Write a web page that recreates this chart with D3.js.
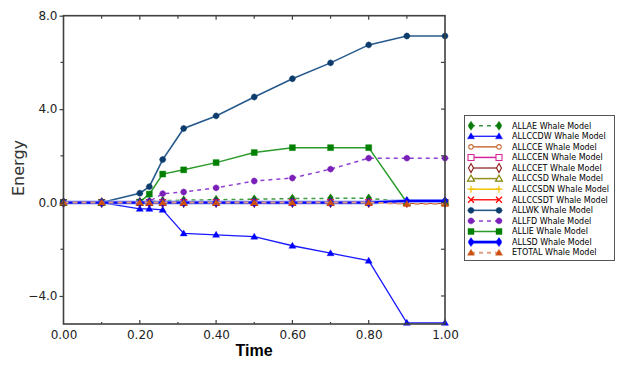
<!DOCTYPE html>
<html><head><meta charset="utf-8">
<script src="https://cdn.jsdelivr.net/npm/d3@7"></script>
<style>body{margin:0;background:#fff}svg{display:block}</style>
</head><body>
<svg id="c" width="625" height="368"></svg>
<script>
const time = [0,0.1,0.2,0.225,0.26,0.315,0.4,0.5,0.6,0.7,0.8,0.9,1.0];
const ALLAE    = [0,0,0.02,0.05,0.08,0.1,0.12,0.14,0.17,0.18,0.18,0.03,0.03];
const ALLCCDW  = [0,0,-0.27,-0.27,-0.31,-1.32,-1.38,-1.46,-1.85,-2.17,-2.49,-5.15,-5.15];
const ALLCCE   = [0,0,0,0,0,0,0,0,0,0,0,-0.03,-0.03];
const ALLCCEN  = [0,0,0,0,0,0,0,0,0,0,0,0,0];
const ALLCCET  = [0,0,0,0,0,0,0,0,0,0,0,0,0];
const ALLCCSD  = [0,0,0,0,0,0,0,0,0,0,0,0,0];
const ALLCCSDN = [0,0,0,0,0,0,0,0,0,0,0,0,0];
const ALLCCSDT = [0,0,0,0,0,0,0,0,0,0,0,-0.02,-0.02];
const ALLWK    = [0,0,0.4,0.68,1.84,3.17,3.71,4.52,5.3,5.98,6.75,7.13,7.13];
const ALLFD    = [0,0,0,0.05,0.38,0.45,0.63,0.92,1.05,1.43,1.9,1.9,1.9];
const ALLIE    = [0,0,0.02,0.36,1.22,1.4,1.71,2.14,2.35,2.35,2.35,0,0];
const ALLSD    = [0,0,0,0,0,0,0,0,0,0,0,0.07,0.07];
const ETOTAL   = [0,0,0,0,0,0,0,0,0,0,0,-0.06,-0.06];

const xTicks = [0,0.2,0.4,0.6,0.8,1.0];
const yTicks = [-4,0,4,8];

const series = [
  {name:"ALLAE Whale Model", v:ALLAE, line:"#3c9c3c", mk:"#0a7a0a", dash:"4,4", shape:"spade", fill:true, w:1.5},
  {name:"ALLCCDW Whale Model", v:ALLCCDW, line:"#1a1aff", mk:"#0000ff", dash:null, shape:"tri", fill:true, w:1.3},
  {name:"ALLCCE Whale Model", v:ALLCCE, line:"#c8703a", mk:"#c8703a", dash:null, shape:"circle", fill:false, w:1.5},
  {name:"ALLCCEN Whale Model", v:ALLCCEN, line:"#d6249a", mk:"#d6249a", dash:null, shape:"square", fill:false, w:1.5},
  {name:"ALLCCET Whale Model", v:ALLCCET, line:"#a04848", mk:"#8b1a1a", dash:null, shape:"diamond", fill:false, w:1.5},
  {name:"ALLCCSD Whale Model", v:ALLCCSD, line:"#909020", mk:"#808000", dash:null, shape:"tri", fill:false, w:1.5},
  {name:"ALLCCSDN Whale Model", v:ALLCCSDN, line:"#f0c800", mk:"#f0c000", dash:null, shape:"plus", fill:false, w:1.5},
  {name:"ALLCCSDT Whale Model", v:ALLCCSDT, line:"#ff2020", mk:"#ff0000", dash:null, shape:"x", fill:false, w:1.5},
  {name:"ALLWK Whale Model", v:ALLWK, line:"#275a8c", mk:"#0c3c6c", dash:null, shape:"dot", fill:true, w:1.6},
  {name:"ALLFD Whale Model", v:ALLFD, line:"#9040d0", mk:"#7a1fb8", dash:"4,4", shape:"dot", fill:true, w:1.5},
  {name:"ALLIE Whale Model", v:ALLIE, line:"#2a9a2a", mk:"#008000", dash:null, shape:"square", fill:true, w:1.5},
  {name:"ALLSD Whale Model", v:ALLSD, line:"#0000ff", mk:"#0000ff", dash:null, shape:"spade", fill:true, w:2.2},
  {name:"ETOTAL Whale Model", v:ETOTAL, line:"#e0a080", mk:"#cc5010", dash:"5,4", shape:"tri", fill:true, w:2}
];

const svg = d3.select("#c");
const x = d3.scaleLinear().domain([0,1]).range([63.5,445]);
const y = d3.scaleLinear().domain([-5.2,8]).range([324,15.7]);

function markerPath(shape){
  switch(shape){
    case "spade": return "M0,-4.5 L2.5,-1 L2.5,1 L0,4.5 L-2.5,1 L-2.5,-1 Z";
    case "tri": return "M0,-3.5 L3.5,2.5 L-3.5,2.5 Z";
    case "circle": return d3.symbol(d3.symbolCircle, 16)();
    case "square": return "M-3,-3 H3 V3 H-3 Z";
    case "diamond": return "M0,-4.5 L2.5,0 L0,4.5 L-2.5,0 Z";
    case "plus": return "M-3.5,0 H3.5 M0,-3.5 V3.5";
    case "x": return "M-3,-3 L3,3 M-3,3 L3,-3";
    case "dot": return "M0,-3.2 L2.2,-2.2 L3.2,0 L2.2,2.2 L0,3.2 L-2.2,2.2 L-3.2,0 L-2.2,-2.2 Z";
  }
}
function drawMarker(g, s, cx, cy){
  const p = g.append("path").attr("d", markerPath(s.shape))
    .attr("transform", `translate(${cx},${cy})`);
  if (s.shape==="plus"||s.shape==="x") p.attr("fill","none").attr("stroke",s.mk).attr("stroke-width",1.2);
  else if (s.fill) p.attr("fill",s.mk).attr("stroke",s.mk).attr("stroke-width",0.4);
  else p.attr("fill","#fff").attr("stroke",s.mk).attr("stroke-width",1.1);
}

const ax = "#404040";
const plot = svg.append("g");
const bottom = svg.append("g").attr("transform",`translate(0,${y(-5.2)})`)
  .call(d3.axisBottom(x).tickValues(xTicks).tickFormat(d3.format(".2f")).tickSize(0).tickPadding(6));
bottom.select(".domain").remove();
bottom.selectAll("text").attr("font-family","DejaVu Sans").attr("font-size",12).attr("fill","#222");
const left = svg.append("g").attr("transform",`translate(${x(0)},0)`)
  .call(d3.axisLeft(y).tickValues(yTicks).tickFormat(d3.format(".1f")).tickSize(4).tickPadding(2));
left.select(".domain").remove();
left.selectAll("line").attr("stroke",ax).attr("stroke-width",1.2);
left.selectAll("text").attr("font-family","DejaVu Sans").attr("font-size",12).attr("fill","#222");
const yMinor = [-2,2,6];
svg.append("g").selectAll("line").data(yMinor).join("line")
  .attr("x1",x(0)-3).attr("x2",x(0)).attr("y1",d=>y(d)).attr("y2",d=>y(d)).attr("stroke",ax).attr("stroke-width",1.2);
svg.append("g").selectAll("line").data([-4,-2,0,2,4,6]).join("line")
  .attr("x1",x(1)-4).attr("x2",x(1)).attr("y1",d=>y(d)).attr("y2",d=>y(d)).attr("stroke",ax).attr("stroke-width",1.2);
const xAll = [0.1,0.2,0.3,0.4,0.5,0.6,0.7,0.8,0.9];
svg.append("g").selectAll("line").data(xAll).join("line")
  .attr("x1",d=>x(d)).attr("x2",d=>x(d)).attr("y1",y(8)).attr("y2",d=>y(8)+(Math.round(d*10)%2===0?4:3)).attr("stroke",ax).attr("stroke-width",1.2);
svg.append("g").selectAll("line").data(xAll).join("line")
  .attr("x1",d=>x(d)).attr("x2",d=>x(d)).attr("y1",y(-5.2)).attr("y2",d=>y(-5.2)-(Math.round(d*10)%2===0?4:2)).attr("stroke",ax).attr("stroke-width",1.2);

series.forEach(s=>{
  const g = plot.append("g");
  const pts = time.map((t,i)=>[t,s.v[i]]);
  const line = d3.line().x(d=>x(d[0])).y(d=>y(d[1]));
  if (s.name.startsWith("ALLSD")) {
    g.append("path").attr("d",line(pts)).attr("fill","none").attr("stroke","#a0b0ff").attr("stroke-width",4);
  }
  const p = g.append("path").attr("d",line(pts)).attr("fill","none").attr("stroke",s.line).attr("stroke-width",s.w);
  if (s.dash) p.attr("stroke-dasharray",s.dash);
  pts.forEach(d=>drawMarker(g,s,x(d[0]),y(d[1])));
});

svg.append("rect").attr("x",x(0)).attr("y",y(8)).attr("width",x(1)-x(0)).attr("height",y(-5.2)-y(8))
  .attr("fill","none").attr("stroke",ax).attr("stroke-width",1.6);

svg.append("text").attr("transform",`translate(24,168) rotate(-90)`).attr("text-anchor","middle")
  .attr("font-family","DejaVu Sans").attr("font-size",16).attr("fill","#333").text("Energy");
svg.append("text").attr("x",254).attr("y",356).attr("text-anchor","middle")
  .attr("font-family","Liberation Sans").attr("font-weight","bold").attr("font-size",16).attr("fill","#000").text("Time");

const lg = svg.append("g");
lg.append("rect").attr("x",464.5).attr("y",115.5).attr("width",150).attr("height",145)
  .attr("fill","#fff").attr("stroke","#555").attr("stroke-width",1);
series.forEach((s,i)=>{
  const cy = 125.7 + i*10.58;
  if (s.name.startsWith("ALLSD")) {
    lg.append("line").attr("x1",471).attr("x2",499).attr("y1",cy).attr("y2",cy).attr("stroke","#a0b0ff").attr("stroke-width",4);
  }
  const l = lg.append("line").attr("x1",471).attr("x2",499).attr("y1",cy).attr("y2",cy)
    .attr("stroke",s.line).attr("stroke-width",s.w);
  if (s.dash) l.attr("stroke-dasharray","4,4");
  drawMarker(lg,s,471,cy);
  drawMarker(lg,s,499,cy);
  lg.append("text").attr("x",512).attr("y",cy).attr("dy","0.35em")
    .attr("font-family","DejaVu Sans").attr("font-size",8).attr("fill","#000").text(s.name);
});
</script>
</body></html>
